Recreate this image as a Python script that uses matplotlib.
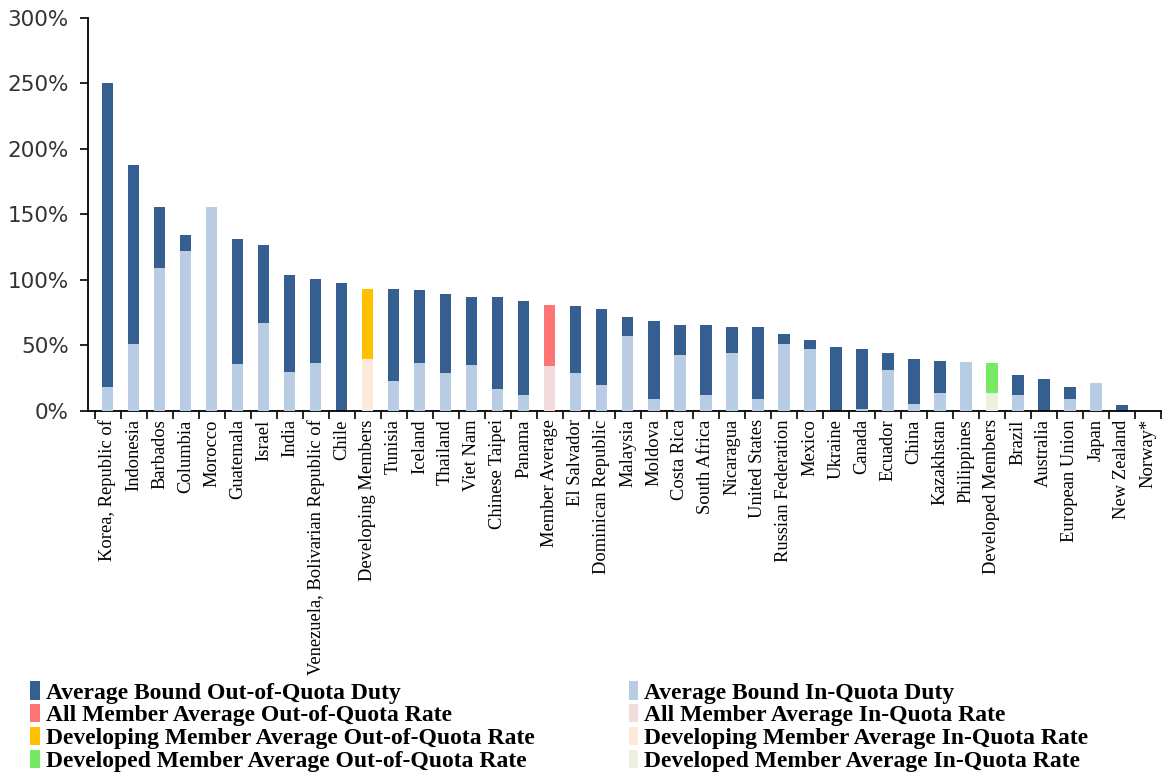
import matplotlib
matplotlib.use('Agg')
import matplotlib.pyplot as plt
import matplotlib.ticker as mticker
from matplotlib.patches import Patch
import numpy as np

# categories in plotted order
members = ['Korea, Republic of', 'Indonesia', 'Barbados', 'Columbia', 'Morocco',
           'Guatemala', 'Israel', 'India', 'Venezuela, Bolivarian Republic of', 'Chile',
           'Developing Members', 'Tunisia', 'Iceland', 'Thailand', 'Viet Nam',
           'Chinese Taipei', 'Panama', 'Member Average', 'El Salvador', 'Dominican Republic',
           'Malaysia', 'Moldova', 'Costa Rica', 'South Africa', 'Nicaragua',
           'United States', 'Russian Federation', 'Mexico', 'Ukraine', 'Canada',
           'Ecuador', 'China', 'Kazakhstan', 'Philippines', 'Developed Members',
           'Brazil', 'Australia', 'European Union', 'Japan', 'New Zealand', 'Norway*']

# bound out-of-quota duty (%)
out_quota = [250, 188, 156, 134, 133, 131, 127, 104, 101, 98,
             93, 93, 92, 89, 87, 87, 84, 81, 80, 78,
             72, 69, 66, 66, 64, 64, 58.5, 54, 49, 47.5,
             44.5, 40, 38.5, 37, 37, 27.5, 24.5, 18.5, 10, 4.8, 0]

# bound in-quota duty (%)
in_quota = [18, 51, 109, 122, 156, 36, 67, 30, 37, 0,
            40, 23, 37, 29, 35, 17, 12, 34, 29, 20,
            57, 9.5, 43, 12.5, 44.5, 9.5, 51, 47.5, 0, 1.5,
            31, 5, 14, 37.5, 14, 12.5, 0, 9.5, 21.5, 0, 0]

# which group each bar belongs to
group = ['member'] * 10 + ['developing'] + ['member'] * 6 + ['all'] + ['member'] * 16 + \
        ['developed'] + ['member'] * 6

out_colors = {'member': '#365F91', 'all': '#FF7575', 'developing': '#FFC000', 'developed': '#77E866'}
in_colors = {'member': '#B8CCE4', 'all': '#F2DCDB', 'developing': '#FDE9D9', 'developed': '#EBF1DE'}

legend_labels = [
    ('Average Bound Out-of-Quota Duty', out_colors['member']),
    ('All Member Average Out-of-Quota Rate', out_colors['all']),
    ('Developing Member Average Out-of-Quota Rate', out_colors['developing']),
    ('Developed Member Average Out-of-Quota Rate', out_colors['developed']),
    ('Average Bound In-Quota Duty', in_colors['member']),
    ('All Member Average In-Quota Rate', in_colors['all']),
    ('Developing Member Average In-Quota Rate', in_colors['developing']),
    ('Developed Member Average In-Quota Rate', in_colors['developed']),
]

fig = plt.figure(figsize=(11.66, 7.76), dpi=100)
ax = fig.add_axes([0.0755, 0.4704, 0.92, 0.5064])

x = np.arange(len(members))
ax.bar(x, out_quota, width=0.45, color=[out_colors[g] for g in group], zorder=2)
ax.bar(x, in_quota, width=0.45, color=[in_colors[g] for g in group], zorder=3)

ax.set_xlim(-0.75, len(members) - 0.5)
ax.set_ylim(0, 300)
ax.set_yticks(np.arange(0, 301, 50))
ax.yaxis.set_major_formatter(mticker.FuncFormatter(lambda v, p: '%d%%' % v))
ax.tick_params(axis='y', labelsize=15.5, length=6, width=1.2, direction='out', pad=8)
for lab in ax.get_yticklabels():
    lab.set_color('#333333')

# category labels centered, tick marks between categories
ax.set_xticks(x)
ax.set_xticklabels(members, rotation=90, fontsize=13.3, family='Liberation Serif')
ax.tick_params(axis='x', which='major', length=0, pad=6)
ax.set_xticks(np.arange(-0.5, len(members), 1), minor=True)
ax.tick_params(axis='x', which='minor', length=6, width=1.2, direction='out')

for s in ['top', 'right']:
    ax.spines[s].set_visible(False)
ax.spines['left'].set_linewidth(1.3)
ax.spines['bottom'].set_linewidth(1.3)

handles = [Patch(facecolor=c, edgecolor='none', label=l) for l, c in legend_labels]
fig.legend(handles=handles, loc='upper left', bbox_to_anchor=(0.018, 1 - 672 / 776), ncol=2,
           frameon=False, handlelength=0.4, handleheight=0.8, handletextpad=0.25,
           columnspacing=4.0, labelspacing=0.02, borderaxespad=0,
           prop={'family': 'Liberation Serif', 'weight': 'bold', 'size': 17})

fig.savefig('out.png', dpi=100)
